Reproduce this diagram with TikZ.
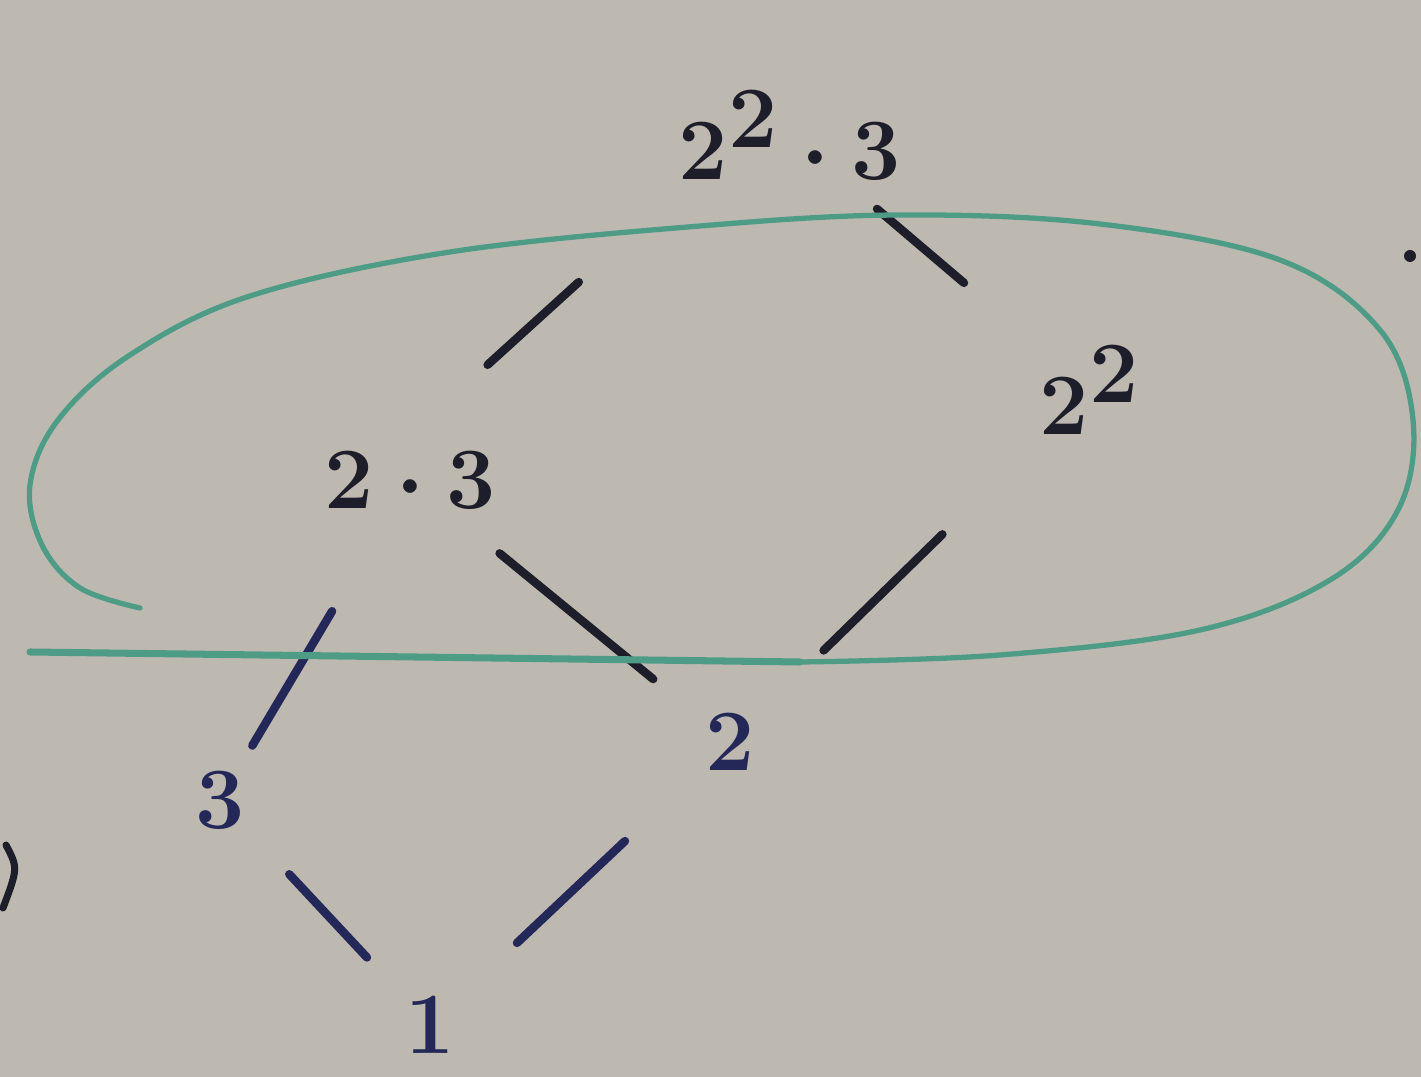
\documentclass[tikz,border=0pt]{standalone}
\usetikzlibrary{calc}
\definecolor{bg}{RGB}{189,185,177}
\definecolor{inkA}{RGB}{30,30,42}
\definecolor{inkB}{RGB}{36,40,88}
\definecolor{marker}{RGB}{78,156,134}
\begin{document}
\begin{tikzpicture}[x=0.01cm,y=-0.01cm,
  lbl/.style={inner sep=0pt,text=inkA},
  edge/.style={draw=inkA,line width=2.4pt,line cap=round},
  edgeB/.style={draw=inkB,line width=2.4pt,line cap=round},
  greenline/.style={draw=marker,line width=1.5pt,line cap=round,line join=round}]
\fill[bg] (0,0) rectangle (1421,1077);
\useasboundingbox (0,0) rectangle (1421,1077);

% nodes
\node[lbl,font=\fontsize{38}{40}\selectfont\boldmath] (top) at (790,135) {$2^{2}\cdot 3$};
\node[lbl,font=\fontsize{28}{30}\selectfont\boldmath] (l23) at (410,480) {$2\cdot 3$};
\node[lbl,font=\fontsize{34}{36}\selectfont\boldmath] (r22) at (1090,390) {$2^{2}$};
\node[lbl,text=inkB,font=\fontsize{24}{26}\selectfont\boldmath] (three) at (220,800) {$3$};
\node[lbl,text=inkB,font=\fontsize{32}{34}\selectfont\boldmath] (two) at (730,742) {$2$};
\node[lbl,text=inkB,font=\fontsize{42}{44}\selectfont\boldmath] (one) at (430,1025) {$1$};

% Hasse edges
\draw[edge] ($(top)!0.49!(l23)+(-25,-22)$) -- ($(top)!0.73!(l23)+(-25,-22)$);
\draw[edge] ($(top)!0.29!(r22)$) -- ($(top)!0.58!(r22)$);
\draw[edgeB] ($(l23)!0.41!(three)$) -- ($(l23)!0.83!(three)$);
\draw[edge] ($(l23)!0.28!(two)$) -- ($(l23)!0.76!(two)$);
\draw[edge] ($(r22)!0.41!(two)$) -- ($(r22)!0.74!(two)$);
\draw[edgeB] ($(three)!0.33!(one)$) -- ($(three)!0.70!(one)$);
\draw[edgeB] ($(two)!0.35!(one)$) -- ($(two)!0.71!(one)$);

% green loop and line
\draw[greenline] plot[smooth,tension=0.6] coordinates {
  (140,608) (80,588) (42,545) (30,485) (58,420) (130,355) (250,296)
  (450,252) (700,226) (900,215) (1100,224) (1280,260) (1380,330)
  (1413,420) (1398,510) (1330,580) (1200,630) (1000,655) (800,662)};
\draw[greenline,line width=2pt] (800,662) -- (30,652);

% stray marks
\draw[inkA,line width=2pt,line cap=round] (6,845) .. controls (18,868) .. (3,908);
\fill[inkA] (1410,256) circle (6);
\end{tikzpicture}
\end{document}
